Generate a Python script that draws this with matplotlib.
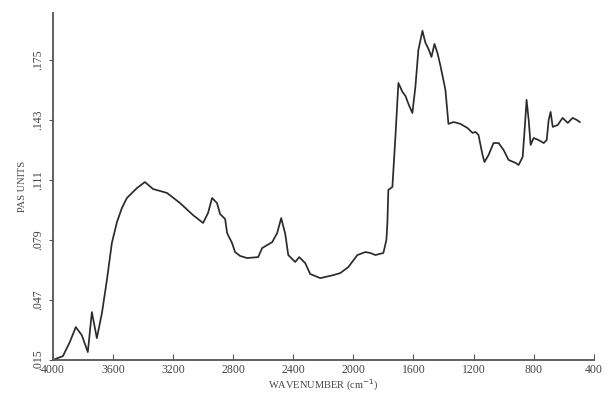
"""
PAS spectrum redrawn from a scanned figure.
Absorbance in PAS units against wavenumber (axis runs 4000 -> 400 cm-1).
"""

import matplotlib
matplotlib.use("Agg")
import matplotlib.pyplot as plt

# Values
wavenumber = [4000, 3967, 3933, 3887, 3847, 3807, 3767, 3740, 3707, 3673,
              3640, 3607, 3573, 3540, 3507, 3440, 3387, 3333, 3240, 3153,
              3067, 3000, 2967, 2940, 2907, 2887, 2853, 2840, 2807, 2787,
              2753, 2707, 2633, 2607, 2540, 2507, 2480, 2453, 2433, 2387,
              2360, 2320, 2287, 2220, 2133, 2087, 2033, 1973, 1920, 1887,
              1853, 1800, 1780, 1773, 1767, 1740, 1720, 1700, 1673, 1653,
              1633, 1607, 1587, 1567, 1540, 1520, 1500, 1480, 1460, 1440,
              1420, 1387, 1367, 1333, 1287, 1240, 1207, 1187, 1167, 1140,
              1127, 1100, 1067, 1033, 1000, 967, 920, 900, 873, 860,
              847, 833, 820, 800, 767, 733, 713, 700, 687, 673,
              640, 607, 573, 540, 513, 493]

pas = [0.0150, 0.0161, 0.0171, 0.0246, 0.0326, 0.0283, 0.0193, 0.0406, 0.0267, 0.0401,
       0.0577, 0.0774, 0.0886, 0.0961, 0.1014, 0.1067, 0.1099, 0.1062, 0.1041, 0.0987,
       0.0923, 0.0881, 0.0934, 0.1014, 0.0987, 0.0929, 0.0902, 0.0827, 0.0774, 0.0726,
       0.0705, 0.0694, 0.0699, 0.0747, 0.0779, 0.0827, 0.0907, 0.0822, 0.0710, 0.0673,
       0.0699, 0.0667, 0.0609, 0.0587, 0.0603, 0.0614, 0.0646, 0.0710, 0.0726, 0.0721,
       0.0710, 0.0721, 0.0790, 0.0886, 0.1057, 0.1073, 0.1339, 0.1627, 0.1579, 0.1558,
       0.1515, 0.1467, 0.1606, 0.1803, 0.1905, 0.1841, 0.1809, 0.1766, 0.1835, 0.1787,
       0.1718, 0.1590, 0.1409, 0.1419, 0.1409, 0.1387, 0.1361, 0.1366, 0.1350, 0.1243,
       0.1206, 0.1243, 0.1307, 0.1307, 0.1270, 0.1217, 0.1201, 0.1190, 0.1233, 0.1377,
       0.1537, 0.1430, 0.1297, 0.1334, 0.1323, 0.1307, 0.1323, 0.1430, 0.1473, 0.1393,
       0.1403, 0.1441, 0.1414, 0.1441, 0.1430, 0.1419]

x_ticks = [4000, 3600, 3200, 2800, 2400, 2000, 1600, 1200, 800, 400]
y_ticks = [0.015, 0.047, 0.079, 0.111, 0.143, 0.175]
y_labels = [".015", ".047", ".079", ".111", ".143", ".175"]

plt.rcParams["font.family"] = ["Liberation Serif", "DejaVu Serif"]

fig = plt.figure(figsize=(6.14, 3.94), dpi=100)
ax = fig.add_axes([0.086, 0.086, 0.881, 0.881])

ax.plot(wavenumber, pas, color="#2b2b2b", linewidth=1.25)

ax.set_xlim(4000, 400)
ax.set_ylim(0.015, 0.2)

ax.spines["top"].set_visible(False)
ax.spines["right"].set_visible(False)
for s in ("left", "bottom"):
    ax.spines[s].set_color("#555555")
    ax.spines[s].set_linewidth(1.3)

ax.set_xticks(x_ticks)
ax.set_xticklabels([str(t) for t in x_ticks], fontsize=8.5, color="#444444")
ax.tick_params(axis="x", direction="in", length=4, pad=3, color="#555555")

ax.set_yticks(y_ticks)
ax.set_yticklabels(y_labels, fontsize=8.5, color="#444444", rotation=90, va="center")
ax.tick_params(axis="y", direction="out", length=3, pad=3, color="#555555")

ax.set_xlabel("WAVENUMBER (cm$^{-1}$)", fontsize=7.5, color="#444444", labelpad=1)
ax.set_ylabel("PAS UNITS", fontsize=7.5, color="#444444", labelpad=4)

fig.savefig("out.png", dpi=100)
